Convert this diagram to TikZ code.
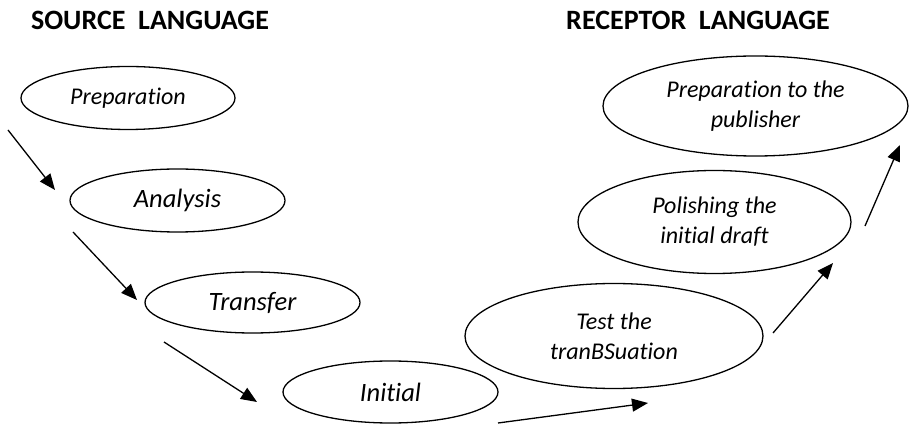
\documentclass[tikz,border=0pt]{standalone}
\usepackage{fontspec}
\setmainfont{Carlito}[RawFeature={-liga}]
\usetikzlibrary{shapes.geometric,arrows.meta}
\begin{document}
\begin{tikzpicture}[x=1pt,y=1pt,
  stage/.style={draw=black,line width=1.3pt,ellipse,inner sep=0pt,align=center,
    font=\fontsize{24}{30}\selectfont\itshape},
  big/.style={font=\fontsize{26.5}{30}\selectfont\itshape},
  heading/.style={font=\fontsize{28}{32}\selectfont\bfseries,inner sep=0pt},
  flow/.style={line width=1.3pt,-{Triangle[length=16pt,width=13pt]}}]
\useasboundingbox (0,0) rectangle (910,-427);
\node[heading] (src) at (150,-20) {SOURCE\ \ LANGUAGE};
\node[heading] (rec) at (698,-20) {RECEPTOR\ \ LANGUAGE};
\node[stage,minimum width=214pt,minimum height=63pt] (prep) at (128,-98) {Preparation};
\node[stage,big,minimum width=215pt,minimum height=63pt] (ana) at (177.5,-200.5) {Analysis};
\node[stage,big,minimum width=215pt,minimum height=61pt] (tra) at (252.5,-302.5) {Transfer};
\node[stage,big,minimum width=215pt,minimum height=62pt] (ini) at (390.5,-392) {Initial};
\node[stage,minimum width=298pt,minimum height=105pt] (test) at (614,-336) {Test the\\tranBSuation};
\node[stage,minimum width=273pt,minimum height=103pt] (pol) at (714.5,-222) {Polishing the\\initial draft};
\node[stage,minimum width=305pt,minimum height=100pt] (pub) at (755.5,-106) {Preparation to the\\publisher};
\coordinate (a1s) at (8,-130);   \coordinate (a1e) at (55,-190);
\coordinate (a2s) at (73,-232);  \coordinate (a2e) at (137,-300);
\coordinate (a3s) at (164,-342); \coordinate (a3e) at (257,-402);
\coordinate (a4s) at (498,-423); \coordinate (a4e) at (648,-403);
\coordinate (a5s) at (773,-333); \coordinate (a5e) at (833,-263);
\coordinate (a6s) at (865,-226); \coordinate (a6e) at (900,-145);
\draw[flow] (a1s) -- (a1e);
\draw[flow] (a2s) -- (a2e);
\draw[flow] (a3s) -- (a3e);
\draw[flow] (a4s) -- (a4e);
\draw[flow] (a5s) -- (a5e);
\draw[flow] (a6s) -- (a6e);
\end{tikzpicture}
\end{document}
